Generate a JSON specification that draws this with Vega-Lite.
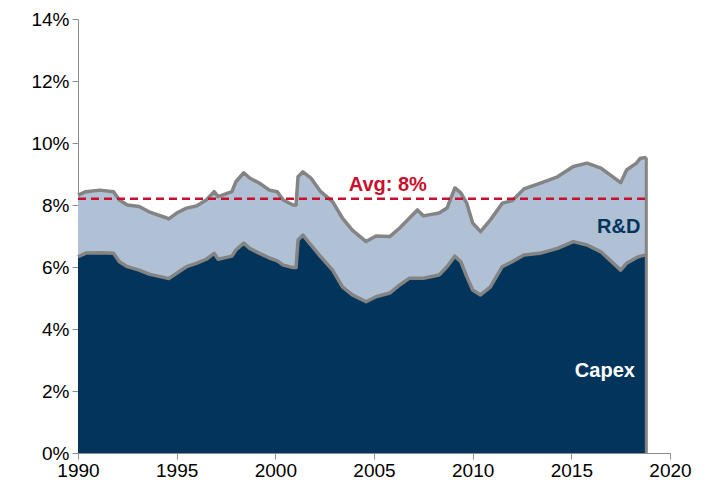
{
  "$schema": "https://vega.github.io/schema/vega-lite/v6.json",
  "width": 592,
  "height": 434,
  "autosize": "none",
  "padding": {"left": 78, "top": 19, "right": 35, "bottom": 36},
  "background": "white",
  "config": {"view": {"stroke": null}, "font": "Liberation Sans"},
  "datasets": {
    "series": [
      {"year": 1990.0, "Capex": 6.33, "R&D": 1.99},
      {"year": 1990.4, "Capex": 6.45, "R&D": 1.98},
      {"year": 1991.1, "Capex": 6.46, "R&D": 2.02},
      {"year": 1991.8, "Capex": 6.44, "R&D": 1.99},
      {"year": 1992.1, "Capex": 6.17, "R&D": 1.99},
      {"year": 1992.5, "Capex": 6.01, "R&D": 1.99},
      {"year": 1993.1, "Capex": 5.90, "R&D": 2.05},
      {"year": 1993.6, "Capex": 5.77, "R&D": 2.01},
      {"year": 1994.5, "Capex": 5.64, "R&D": 1.94},
      {"year": 1994.6, "Capex": 5.63, "R&D": 1.92},
      {"year": 1995.0, "Capex": 5.80, "R&D": 1.94},
      {"year": 1995.5, "Capex": 6.01, "R&D": 1.89},
      {"year": 1996.0, "Capex": 6.12, "R&D": 1.85},
      {"year": 1996.5, "Capex": 6.25, "R&D": 1.91},
      {"year": 1996.9, "Capex": 6.44, "R&D": 1.99},
      {"year": 1997.1, "Capex": 6.25, "R&D": 2.02},
      {"year": 1997.8, "Capex": 6.35, "R&D": 2.08},
      {"year": 1998.0, "Capex": 6.55, "R&D": 2.20},
      {"year": 1998.4, "Capex": 6.77, "R&D": 2.27},
      {"year": 1998.7, "Capex": 6.60, "R&D": 2.27},
      {"year": 1999.2, "Capex": 6.44, "R&D": 2.26},
      {"year": 1999.7, "Capex": 6.29, "R&D": 2.19},
      {"year": 2000.1, "Capex": 6.20, "R&D": 2.23},
      {"year": 2000.4, "Capex": 6.06, "R&D": 2.10},
      {"year": 2000.9, "Capex": 5.98, "R&D": 2.02},
      {"year": 2001.05, "Capex": 5.98, "R&D": 2.02},
      {"year": 2001.15, "Capex": 6.87, "R&D": 2.04},
      {"year": 2001.4, "Capex": 7.03, "R&D": 2.04},
      {"year": 2001.8, "Capex": 6.71, "R&D": 2.16},
      {"year": 2002.3, "Capex": 6.33, "R&D": 2.10},
      {"year": 2002.9, "Capex": 5.90, "R&D": 2.21},
      {"year": 2003.4, "Capex": 5.36, "R&D": 2.22},
      {"year": 2003.9, "Capex": 5.10, "R&D": 2.09},
      {"year": 2004.6, "Capex": 4.88, "R&D": 1.94},
      {"year": 2005.1, "Capex": 5.04, "R&D": 1.96},
      {"year": 2005.8, "Capex": 5.16, "R&D": 1.82},
      {"year": 2006.3, "Capex": 5.42, "R&D": 1.84},
      {"year": 2006.8, "Capex": 5.64, "R&D": 1.94},
      {"year": 2007.2, "Capex": 5.64, "R&D": 2.20},
      {"year": 2007.5, "Capex": 5.64, "R&D": 2.01},
      {"year": 2008.3, "Capex": 5.74, "R&D": 2.00},
      {"year": 2008.7, "Capex": 6.01, "R&D": 1.89},
      {"year": 2009.1, "Capex": 6.35, "R&D": 2.20},
      {"year": 2009.4, "Capex": 6.17, "R&D": 2.22},
      {"year": 2009.7, "Capex": 5.69, "R&D": 2.37},
      {"year": 2010.0, "Capex": 5.26, "R&D": 2.16},
      {"year": 2010.4, "Capex": 5.10, "R&D": 2.04},
      {"year": 2010.9, "Capex": 5.36, "R&D": 2.16},
      {"year": 2011.5, "Capex": 6.01, "R&D": 2.05},
      {"year": 2012.0, "Capex": 6.17, "R&D": 1.97},
      {"year": 2012.6, "Capex": 6.39, "R&D": 2.13},
      {"year": 2013.4, "Capex": 6.44, "R&D": 2.26},
      {"year": 2014.3, "Capex": 6.60, "R&D": 2.31},
      {"year": 2015.1, "Capex": 6.82, "R&D": 2.42},
      {"year": 2015.8, "Capex": 6.71, "R&D": 2.64},
      {"year": 2016.5, "Capex": 6.49, "R&D": 2.70},
      {"year": 2017.5, "Capex": 5.90, "R&D": 2.82},
      {"year": 2017.8, "Capex": 6.12, "R&D": 3.01},
      {"year": 2018.3, "Capex": 6.30, "R&D": 3.05},
      {"year": 2018.5, "Capex": 6.35, "R&D": 3.16},
      {"year": 2018.8, "Capex": 6.39, "R&D": 3.14}
    ],
    "avg": [{"start": 1990, "end": 2018.8, "avg": 8.2}],
    "edge": [{"year": 2018.8, "bottom": 0, "top": 9.53}],
    "labels": [
      {"label": "Avg: 8%", "year": 2005.7, "value": 8.65},
      {"label": "R&D", "year": 2017.4, "value": 7.3},
      {"label": "Capex", "year": 2016.7, "value": 2.65}
    ]
  },
  "layer": [
    {
      "data": {"name": "series"},
      "transform": [{"fold": ["Capex", "R&D"], "as": ["series", "value"]}],
      "mark": {"type": "area", "opacity": 1},
      "encoding": {
        "x": {
          "field": "year", "type": "quantitative",
          "scale": {"domain": [1990, 2020], "nice": false, "zero": false},
          "axis": {
            "title": null, "values": [1990, 1995, 2000, 2005, 2010, 2015, 2020],
            "format": "d", "grid": false, "domainColor": "#8c8c8c", "tickColor": "#8c8c8c",
            "tickSize": 6, "labelFontSize": 19, "labelColor": "#000000", "labelPadding": 2,
            "labelFont": "Liberation Sans", "labelFlush": false, "labelOverlap": false
          }
        },
        "y": {
          "field": "value", "type": "quantitative", "stack": "zero",
          "scale": {"domain": [0, 14], "nice": false},
          "axis": {
            "title": null, "values": [0, 2, 4, 6, 8, 10, 12, 14],
            "labelExpr": "datum.value + '%'", "grid": false,
            "domainColor": "#8c8c8c", "tickColor": "#8c8c8c", "tickSize": 6,
            "labelFontSize": 19, "labelColor": "#000000", "labelPadding": 3,
            "labelFont": "Liberation Sans"
          }
        },
        "color": {
          "field": "series", "type": "nominal",
          "scale": {"domain": ["Capex", "R&D"], "range": ["#02345c", "#b0c0d5"]},
          "legend": null
        },
        "order": {"field": "series", "sort": "ascending"}
      }
    },
    {
      "data": {"name": "series"},
      "transform": [{"fold": ["Capex", "R&D"], "as": ["series", "value"]}],
      "mark": {"type": "line", "color": "#848484", "strokeWidth": 3.5, "strokeJoin": "round"},
      "encoding": {
        "x": {"field": "year", "type": "quantitative"},
        "y": {"field": "value", "type": "quantitative", "stack": "zero"},
        "detail": {"field": "series", "type": "nominal"},
        "order": {"field": "series", "sort": "ascending"}
      }
    },
    {
      "data": {"name": "edge"},
      "mark": {"type": "rule", "color": "#848484", "strokeWidth": 3},
      "encoding": {
        "x": {"field": "year", "type": "quantitative"},
        "y": {"field": "bottom", "type": "quantitative"},
        "y2": {"field": "top"}
      }
    },
    {
      "data": {"name": "avg"},
      "mark": {"type": "rule", "color": "#c8102e", "strokeWidth": 2.5, "strokeDash": [8, 5]},
      "encoding": {
        "x": {"field": "start", "type": "quantitative"},
        "x2": {"field": "end"},
        "y": {"field": "avg", "type": "quantitative"}
      }
    },
    {
      "data": {"name": "labels"},
      "mark": {"type": "text", "fontSize": 20, "fontWeight": "bold", "font": "Liberation Sans", "align": "center", "baseline": "middle"},
      "encoding": {
        "x": {"field": "year", "type": "quantitative"},
        "y": {"field": "value", "type": "quantitative"},
        "text": {"field": "label"},
        "color": {
          "field": "label", "type": "nominal",
          "scale": {"domain": ["Avg: 8%", "R&D", "Capex"], "range": ["#c8102e", "#02345c", "#ffffff"]},
          "legend": null
        }
      }
    }
  ],
  "resolve": {"scale": {"color": "independent"}}
}
